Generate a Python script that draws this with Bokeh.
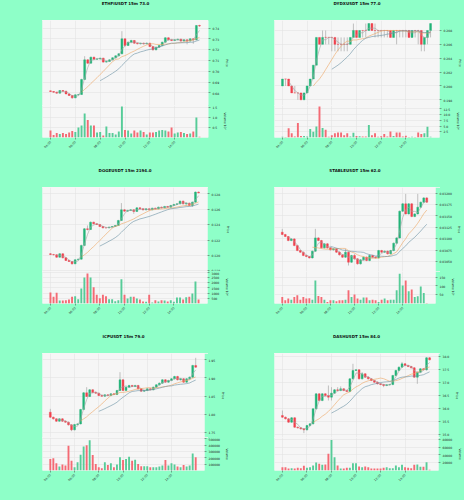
import math
import pandas as pd
from bokeh.plotting import figure
from bokeh.layouts import column, row
from bokeh.models import Range1d, FixedTicker, PrintfTickFormatter, Label
from bokeh.embed import file_html
from bokeh.resources import INLINE

# ---------------- data ----------------
TIME_TICKS = [0, 8, 16, 24, 32, 40]
TIME_LABELS = ["04:00", "06:00", "08:00", "10:00", "12:00", "14:00"]
MA_WINDOWS = [3, 11, 17]

ETHFI_title = "ETHFIUSDT 15m 73.0"
ETHFI_open0 = 0.6818
ETHFI_close = [0.6812, 0.6806, 0.6797, 0.6821, 0.6815, 0.6790, 0.6775, 0.6753, 0.6781, 0.6784, 0.6924, 0.7106, 0.7075, 0.7131, 0.7112, 0.7115, 0.7122, 0.7085, 0.7091, 0.7106, 0.7125, 0.7143, 0.7162, 0.7301, 0.7239, 0.7270, 0.7286, 0.7261, 0.7255, 0.7261, 0.7255, 0.7261, 0.7230, 0.7199, 0.7224, 0.7239, 0.7270, 0.7311, 0.7292, 0.7286, 0.7292, 0.7298, 0.7280, 0.7292, 0.7280, 0.7301, 0.7292, 0.7425, 0.7420]
ETHFI_high = [0.6822, 0.6816, 0.6810, 0.6826, 0.6825, 0.6818, 0.6794, 0.6778, 0.6785, 0.6790, 0.6930, 0.7140, 0.7112, 0.7136, 0.7135, 0.7120, 0.7126, 0.7125, 0.7096, 0.7110, 0.7130, 0.7148, 0.7168, 0.7372, 0.7305, 0.7275, 0.7292, 0.7290, 0.7266, 0.7265, 0.7266, 0.7266, 0.7265, 0.7234, 0.7228, 0.7244, 0.7275, 0.7316, 0.7315, 0.7297, 0.7297, 0.7303, 0.7302, 0.7296, 0.7296, 0.7306, 0.7306, 0.7430, 0.7432]
ETHFI_low = [0.6808, 0.6800, 0.6792, 0.6794, 0.6810, 0.6786, 0.6770, 0.6745, 0.6750, 0.6776, 0.6780, 0.6920, 0.7068, 0.7070, 0.7105, 0.7108, 0.7110, 0.7080, 0.7080, 0.7088, 0.7102, 0.7120, 0.7140, 0.7158, 0.7230, 0.7235, 0.7265, 0.7255, 0.7250, 0.7250, 0.7248, 0.7250, 0.7225, 0.7192, 0.7195, 0.7220, 0.7235, 0.7265, 0.7286, 0.7280, 0.7282, 0.7288, 0.7274, 0.7276, 0.7250, 0.7275, 0.7255, 0.7288, 0.7412]
ETHFI_volume = [3.5e6, 1.2e6, 2.2e6, 1.8e6, 2.2e6, 1.8e6, 2.5e6, 3.2e6, 2.8e6, 5.0e6, 6.0e6, 12.0e6, 8.7e6, 6.0e6, 6.0e6, 2.5e6, 2.8e6, 1.0e6, 5.5e6, 2.2e6, 2.2e6, 1.5e6, 3.0e6, 15.5e6, 3.8e6, 3.5e6, 2.0e6, 3.5e6, 2.5e6, 3.5e6, 2.8e6, 1.5e6, 2.5e6, 2.5e6, 2.8e6, 3.5e6, 3.8e6, 3.5e6, 3.0e6, 5.0e6, 2.0e6, 2.5e6, 2.8e6, 2.2e6, 1.8e6, 2.0e6, 3.0e6, 10.0e6, 0.4e6]
ETHFI_price_ticks = [0.68, 0.69, 0.70, 0.71, 0.72, 0.73, 0.74]
ETHFI_vol_ticks = [0.5, 1.0, 1.5]

DYDX_title = "DYDXUSDT 15m 77.0"
DYDX_open0 = 0.200
DYDX_close = [0.201, 0.201, 0.200, 0.199, 0.199, 0.199, 0.198, 0.199, 0.200, 0.201, 0.203, 0.207, 0.206, 0.207, 0.207, 0.207, 0.207, 0.206, 0.206, 0.206, 0.206, 0.206, 0.207, 0.208, 0.207, 0.208, 0.208, 0.208, 0.209, 0.208, 0.208, 0.208, 0.208, 0.208, 0.208, 0.207, 0.208, 0.208, 0.208, 0.208, 0.208, 0.207, 0.208, 0.208, 0.208, 0.206, 0.207, 0.208, 0.209]
DYDX_high = [0.201, 0.201, 0.201, 0.200, 0.200, 0.199, 0.199, 0.199, 0.200, 0.201, 0.203, 0.207, 0.207, 0.208, 0.208, 0.207, 0.207, 0.207, 0.207, 0.207, 0.207, 0.207, 0.207, 0.209, 0.208, 0.208, 0.208, 0.209, 0.209, 0.209, 0.209, 0.208, 0.208, 0.208, 0.208, 0.208, 0.208, 0.208, 0.208, 0.208, 0.208, 0.208, 0.208, 0.208, 0.208, 0.208, 0.207, 0.208, 0.209]
DYDX_low = [0.200, 0.200, 0.200, 0.199, 0.199, 0.198, 0.198, 0.198, 0.199, 0.200, 0.201, 0.203, 0.206, 0.206, 0.206, 0.206, 0.205, 0.205, 0.205, 0.205, 0.205, 0.205, 0.206, 0.207, 0.207, 0.207, 0.207, 0.207, 0.208, 0.208, 0.207, 0.207, 0.207, 0.207, 0.207, 0.207, 0.207, 0.206, 0.207, 0.207, 0.207, 0.207, 0.207, 0.207, 0.206, 0.205, 0.205, 0.206, 0.207]
DYDX_volume = [3000, 2000, 40000, 19000, 4000, 63000, 7000, 6000, 4000, 37000, 25000, 48000, 135000, 41000, 34000, 3000, 10000, 19000, 22000, 22000, 10000, 19000, 4000, 21000, 7000, 5000, 4000, 4000, 54000, 10000, 19000, 3000, 5000, 15000, 4000, 26000, 6000, 22000, 22000, 4000, 8000, 2000, 3000, 2000, 22000, 15000, 18000, 47000, 3000]
DYDX_price_ticks = [0.198, 0.200, 0.202, 0.204, 0.206, 0.208]
DYDX_vol_ticks = [2.5, 5.0, 7.5, 10.0, 12.5]

DOGE_title = "DOGEUSDT 15m 2194.0"
DOGE_open0 = 0.12022
DOGE_close = [0.12013, 0.12009, 0.11978, 0.12022, 0.11970, 0.11935, 0.11922, 0.11892, 0.11944, 0.11952, 0.12130, 0.12346, 0.12337, 0.12432, 0.12411, 0.12402, 0.12376, 0.12359, 0.12359, 0.12368, 0.12376, 0.12389, 0.12454, 0.12592, 0.12575, 0.12584, 0.12592, 0.12571, 0.12618, 0.12605, 0.12592, 0.12605, 0.12592, 0.12614, 0.12605, 0.12627, 0.12618, 0.12636, 0.12627, 0.12649, 0.12662, 0.12670, 0.12705, 0.12670, 0.12679, 0.12649, 0.12692, 0.12822, 0.12813]
DOGE_high = [0.12030, 0.12020, 0.12015, 0.12030, 0.12028, 0.11976, 0.11942, 0.11928, 0.11950, 0.11960, 0.12140, 0.12355, 0.12390, 0.12440, 0.12438, 0.12418, 0.12408, 0.12382, 0.12366, 0.12375, 0.12383, 0.12396, 0.12462, 0.12680, 0.12600, 0.12592, 0.12600, 0.12598, 0.12625, 0.12625, 0.12612, 0.12612, 0.12612, 0.12620, 0.12620, 0.12634, 0.12634, 0.12643, 0.12643, 0.12656, 0.12670, 0.12678, 0.12712, 0.12712, 0.12686, 0.12686, 0.12700, 0.12830, 0.12830]
DOGE_low = [0.12005, 0.12000, 0.11970, 0.11972, 0.11962, 0.11928, 0.11915, 0.11880, 0.11886, 0.11938, 0.11946, 0.12124, 0.12325, 0.12330, 0.12404, 0.12395, 0.12369, 0.12352, 0.12352, 0.12352, 0.12362, 0.12370, 0.12383, 0.12448, 0.12568, 0.12568, 0.12578, 0.12540, 0.12565, 0.12598, 0.12585, 0.12586, 0.12585, 0.12586, 0.12598, 0.12598, 0.12611, 0.12611, 0.12620, 0.12620, 0.12642, 0.12655, 0.12663, 0.12663, 0.12640, 0.12642, 0.12630, 0.12686, 0.12806]
DOGE_volume = [10560000, 6400000, 10240000, 2880000, 2880000, 3200000, 3840000, 6400000, 7040000, 4160000, 14400000, 24960000, 28800000, 24960000, 15680000, 8320000, 5120000, 8320000, 7040000, 4160000, 4160000, 2240000, 3200000, 23360000, 8320000, 4800000, 6400000, 6400000, 4800000, 3840000, 1920000, 1600000, 8320000, 960000, 3200000, 1920000, 3200000, 2880000, 1920000, 3200000, 1600000, 5760000, 5760000, 3840000, 6080000, 6400000, 9600000, 21120000, 3840000]
DOGE_price_ticks = [0.118, 0.120, 0.122, 0.124, 0.126, 0.128]
DOGE_vol_ticks = [500, 1000, 1500, 2000, 2500, 3000]

STABLE_title = "STABLEUSDT 15m 62.0"
STABLE_open0 = 0.031144
STABLE_close = [0.031093, 0.031049, 0.030961, 0.030997, 0.030851, 0.030741, 0.030705, 0.030632, 0.030610, 0.030580, 0.030727, 0.031019, 0.030961, 0.030800, 0.030888, 0.030800, 0.030756, 0.030778, 0.030705, 0.030646, 0.030595, 0.030705, 0.030485, 0.030632, 0.030559, 0.030449, 0.030537, 0.030595, 0.030522, 0.030632, 0.030595, 0.030580, 0.030741, 0.030705, 0.030727, 0.030668, 0.030741, 0.030902, 0.031019, 0.031605, 0.031766, 0.031546, 0.031766, 0.031488, 0.031546, 0.031693, 0.031802, 0.031897, 0.031802]
STABLE_high = [0.031217, 0.031108, 0.031060, 0.031012, 0.031010, 0.030866, 0.030756, 0.030720, 0.030646, 0.030624, 0.030741, 0.031217, 0.031034, 0.030975, 0.030902, 0.030902, 0.030815, 0.030793, 0.030793, 0.030720, 0.030661, 0.030778, 0.030720, 0.030646, 0.030661, 0.030573, 0.030551, 0.030610, 0.030610, 0.030661, 0.030646, 0.030610, 0.030756, 0.030756, 0.030741, 0.030741, 0.030756, 0.030917, 0.031034, 0.031619, 0.031780, 0.031985, 0.031780, 0.031780, 0.031561, 0.031985, 0.031817, 0.031912, 0.031912]
STABLE_low = [0.031080, 0.031035, 0.030946, 0.030946, 0.030836, 0.030727, 0.030690, 0.030617, 0.030595, 0.030566, 0.030566, 0.030712, 0.030946, 0.030785, 0.030785, 0.030785, 0.030741, 0.030741, 0.030690, 0.030632, 0.030580, 0.030580, 0.030412, 0.030470, 0.030544, 0.030434, 0.030434, 0.030522, 0.030507, 0.030507, 0.030580, 0.030566, 0.030566, 0.030690, 0.030690, 0.030654, 0.030654, 0.030727, 0.030888, 0.031005, 0.031590, 0.031532, 0.031532, 0.031473, 0.031473, 0.031532, 0.031678, 0.031788, 0.031788]
STABLE_volume = [3700000, 1900000, 2800000, 2200000, 3700000, 4700000, 2200000, 3700000, 2800000, 3000000, 2200000, 13100000, 4300000, 3700000, 2200000, 900000, 1900000, 1900000, 1300000, 1900000, 1900000, 2200000, 7500000, 3700000, 5100000, 2800000, 2200000, 3400000, 3400000, 1900000, 2200000, 1900000, 900000, 2200000, 2800000, 1900000, 2200000, 2200000, 7500000, 16900000, 10300000, 13100000, 6900000, 7900000, 3700000, 4100000, 9700000, 6000000, 300000]
STABLE_price_ticks = [0.03050, 0.03075, 0.03100, 0.03125, 0.03150, 0.03175, 0.03200]
STABLE_vol_ticks = [50, 100, 150]

ICP_title = "ICPUSDT 15m 79.0"
ICP_open0 = 1.8053
ICP_close = [1.7915, 1.7869, 1.7804, 1.7869, 1.7804, 1.7777, 1.7703, 1.7565, 1.7712, 1.7730, 1.8127, 1.8588, 1.8486, 1.8671, 1.8597, 1.8578, 1.8514, 1.8495, 1.8532, 1.8514, 1.8560, 1.8542, 1.8652, 1.8947, 1.8652, 1.8744, 1.8790, 1.8763, 1.8790, 1.8698, 1.8634, 1.8652, 1.8698, 1.8671, 1.8744, 1.8809, 1.8855, 1.8947, 1.8883, 1.8929, 1.8975, 1.9039, 1.8947, 1.8975, 1.8883, 1.8975, 1.9021, 1.9343, 1.9297]
ICP_high = [1.8145, 1.7930, 1.7885, 1.7885, 1.7885, 1.7820, 1.7795, 1.7720, 1.7730, 1.7750, 1.8145, 1.8610, 1.8744, 1.8690, 1.8690, 1.8615, 1.8595, 1.8530, 1.8550, 1.8550, 1.8578, 1.8578, 1.8670, 1.9159, 1.8965, 1.8762, 1.8810, 1.8810, 1.8810, 1.8810, 1.8715, 1.8670, 1.8715, 1.8715, 1.8762, 1.8828, 1.8875, 1.8965, 1.8965, 1.8948, 1.8995, 1.9058, 1.9058, 1.8995, 1.8995, 1.8995, 1.9040, 1.9362, 1.9555]
ICP_low = [1.7895, 1.7850, 1.7785, 1.7790, 1.7785, 1.7760, 1.7685, 1.7528, 1.7550, 1.7695, 1.7715, 1.8110, 1.8470, 1.8470, 1.8580, 1.8560, 1.8495, 1.8478, 1.8478, 1.8495, 1.8495, 1.8525, 1.8525, 1.8635, 1.8635, 1.8635, 1.8725, 1.8745, 1.8745, 1.8680, 1.8615, 1.8615, 1.8635, 1.8655, 1.8655, 1.8725, 1.8790, 1.8835, 1.8865, 1.8865, 1.8910, 1.8955, 1.8930, 1.8930, 1.8865, 1.8865, 1.8955, 1.9000, 1.9280]
ICP_volume = [181000, 192000, 114000, 62000, 93000, 78000, 389000, 155000, 52000, 130000, 249000, 378000, 399000, 477000, 244000, 104000, 52000, 36000, 130000, 88000, 114000, 52000, 93000, 207000, 166000, 181000, 218000, 155000, 171000, 104000, 67000, 67000, 67000, 52000, 52000, 52000, 62000, 78000, 166000, 78000, 114000, 93000, 62000, 52000, 88000, 62000, 78000, 269000, 207000]
ICP_price_ticks = [1.75, 1.80, 1.85, 1.90, 1.95]
ICP_vol_ticks = [100000, 200000, 300000, 400000, 500000]

DASH_title = "DASHUSDT 15m 84.0"
DASH_open0 = 35.731
DASH_close = [35.667, 35.603, 35.474, 35.641, 35.282, 35.256, 35.218, 35.179, 35.346, 35.410, 35.987, 36.564, 36.308, 36.564, 36.500, 36.436, 36.590, 36.718, 36.692, 36.756, 36.692, 36.654, 37.141, 37.462, 37.487, 37.141, 37.333, 37.205, 37.141, 37.077, 37.013, 36.949, 36.923, 36.885, 36.910, 36.923, 37.269, 37.462, 37.590, 37.718, 37.654, 37.615, 37.564, 37.205, 37.397, 37.526, 37.487, 37.949, 37.872]
DASH_high = [35.923, 35.690, 35.630, 35.670, 35.665, 35.305, 35.280, 35.240, 35.370, 35.435, 36.010, 36.590, 36.590, 36.590, 36.590, 36.885, 36.820, 36.745, 36.820, 36.850, 36.780, 36.720, 37.165, 37.718, 37.510, 37.510, 37.400, 37.360, 37.230, 37.165, 37.100, 37.040, 36.975, 36.950, 36.935, 36.950, 37.295, 37.490, 37.615, 37.790, 37.745, 37.680, 37.640, 37.590, 37.420, 37.550, 37.550, 37.975, 37.975]
DASH_low = [35.640, 35.580, 35.450, 35.450, 35.260, 35.230, 35.190, 35.051, 35.155, 35.320, 35.390, 35.960, 36.280, 36.280, 36.475, 36.308, 36.308, 36.565, 36.665, 36.665, 36.665, 36.630, 36.630, 37.115, 37.440, 37.115, 37.115, 37.180, 37.115, 37.050, 36.985, 36.925, 36.895, 36.820, 36.860, 36.885, 36.895, 37.240, 37.435, 37.565, 37.630, 37.590, 37.540, 37.180, 36.949, 37.370, 37.460, 37.460, 37.850]
DASH_volume = [8600, 8600, 5100, 6000, 5100, 6900, 6000, 12000, 6900, 8600, 12900, 20600, 17200, 14600, 15400, 43000, 79000, 34000, 12900, 5100, 5100, 6900, 6900, 19000, 19000, 10300, 8600, 10300, 8600, 5100, 5100, 5100, 5100, 6900, 8600, 6000, 6000, 12900, 8600, 14600, 8600, 6900, 6000, 14600, 15400, 9400, 9400, 21500, 1700]
DASH_price_ticks = [35.0, 35.5, 36.0, 36.5, 37.0, 37.5, 38.0]
DASH_vol_ticks = [20000, 40000, 60000, 80000]

# ---------------- style ----------------
PAGE_BG = "#8effc8"
PLOT_BG = "#f6f6f6"
GRID = "#e0e0e0"
UP = "#22b478"
DOWN = "#f2404c"
VUP = "#56cc98"
VDOWN = "#f46a74"
WICK = "#9a9a9a"
MA_COLORS = ["#a3a3a3", "#eda562", "#6a90a3"]
FONT = "DejaVu Sans"
X_RANGE = (-2.58, 50.9)
FIG_CSS = {"background": "linear-gradient(to right, %s 42px, %s 42px, %s 208px, %s 208px)"
           % (PAGE_BG, PLOT_BG, PLOT_BG, PAGE_BG)}


def style_axis(ax):
    ax.major_label_text_font_size = "3px"
    ax.major_label_text_font = FONT
    ax.major_label_text_color = "#222222"
    ax.axis_line_color = None
    ax.major_tick_line_color = "#444444"
    ax.major_tick_line_width = 0.5
    ax.major_tick_out = 2
    ax.major_tick_in = 0
    ax.minor_tick_line_color = None
    ax.major_label_standoff = 2
    ax.axis_label_text_font_size = "3px"
    ax.axis_label_text_font = FONT
    ax.axis_label_text_font_style = "normal"
    ax.axis_label_text_color = "#222222"
    ax.axis_label_standoff = 3


def title_fig(title):
    t = figure(width=232, height=20, x_range=Range1d(0, 232), y_range=Range1d(0, 20),
               output_backend="svg", toolbar_location=None, x_axis_location=None,
               y_axis_location=None, min_border=0, background_fill_color=PAGE_BG,
               border_fill_color=PAGE_BG, outline_line_color=None,
               styles={"background-color": PAGE_BG})
    t.xgrid.visible = False
    t.ygrid.visible = False
    t.add_layout(Label(x=116, y=17, text=title, text_font=FONT, text_font_size="4px",
                       text_font_style="bold", text_color="#111111",
                       text_align="center", text_baseline="middle"))
    return t


def panel(title, open0, close, high, low, volume, vol_div, pticks, pfmt,
          vticks, vfmt, vlabel, prange, vrange, hp, hv, vframe):
    n = len(close)
    idx = list(range(n))
    opens = [open0] + close[:-1]
    up = [c > o for o, c in zip(opens, close)]
    col = [UP if u else DOWN for u in up]
    vcol = [VUP if u else VDOWN for u in up]
    top = [max(o, c) for o, c in zip(opens, close)]
    bot = [min(o, c) for o, c in zip(opens, close)]

    xr = Range1d(*X_RANGE)
    p = figure(width=232, height=hp, x_range=xr, y_range=Range1d(*prange),
               output_backend="svg", toolbar_location=None, y_axis_location="right",
               min_border_left=42, min_border_right=24, min_border_top=0,
               min_border_bottom=0, background_fill_color=PLOT_BG,
               border_fill_color=PAGE_BG, outline_line_color=None, styles=FIG_CSS)
    p.xaxis.visible = False
    p.xgrid.ticker = FixedTicker(ticks=TIME_TICKS)
    p.yaxis.ticker = FixedTicker(ticks=pticks)
    p.ygrid.ticker = FixedTicker(ticks=pticks)
    p.yaxis.formatter = PrintfTickFormatter(format=pfmt)
    p.yaxis.axis_label = "Price"
    style_axis(p.yaxis[0])
    for g in (p.xgrid[0], p.ygrid[0]):
        g.grid_line_color = GRID
        g.grid_line_width = 0.5

    p.segment(x0=idx, y0=low, x1=idx, y1=high, line_color=WICK, line_width=0.6)
    p.vbar(x=idx, width=0.62, top=top, bottom=bot, fill_color=col,
           line_color=col, line_width=0.4)
    closes = pd.Series(close)
    for w, c in zip(MA_WINDOWS, MA_COLORS):
        ma = closes.rolling(w).mean().tolist()
        p.line(idx, ma, line_color=c, line_width=0.6)

    v = figure(width=232, height=hv, x_range=xr, y_range=Range1d(*vrange),
               output_backend="svg", toolbar_location=None, y_axis_location="right",
               min_border_left=42, min_border_right=24, min_border_top=0,
               min_border_bottom=hv - vframe, background_fill_color=PLOT_BG,
               border_fill_color=PAGE_BG, outline_line_color=None, styles=FIG_CSS)
    v.xaxis.ticker = FixedTicker(ticks=TIME_TICKS)
    v.xgrid.ticker = FixedTicker(ticks=TIME_TICKS)
    v.xaxis.major_label_overrides = {t: l for t, l in zip(TIME_TICKS, TIME_LABELS)}
    v.xaxis.major_label_orientation = math.pi / 4
    v.yaxis.ticker = FixedTicker(ticks=vticks)
    v.ygrid.ticker = FixedTicker(ticks=vticks)
    v.yaxis.formatter = PrintfTickFormatter(format=vfmt)
    v.yaxis.axis_label = vlabel
    style_axis(v.yaxis[0])
    style_axis(v.xaxis[0])
    for g in (v.xgrid[0], v.ygrid[0]):
        g.grid_line_color = GRID
        g.grid_line_width = 0.5
    vv = [x / vol_div for x in volume]
    v.vbar(x=idx, width=0.62, top=vv, bottom=0, fill_color=vcol, line_color=None)
    return column(title_fig(title), p, v, spacing=0)


p1 = panel(ETHFI_title, ETHFI_open0, ETHFI_close, ETHFI_high, ETHFI_low, ETHFI_volume, 1e7,
           ETHFI_price_ticks, "%.2f", ETHFI_vol_ticks, "%.1f", "Volume  10\u2077",
           (0.66821, 0.74715), (0, 1.6), 85, 62, 32)
p2 = panel(DYDX_title, DYDX_open0, DYDX_close, DYDX_high, DYDX_low, DYDX_volume, 1e4,
           DYDX_price_ticks, "%.3f", DYDX_vol_ticks, "%.1f", "Volume  10\u2074",
           (0.19718, 0.20944), (0, 13.96), 85, 62, 32)
p3 = panel(DOGE_title, DOGE_open0, DOGE_close, DOGE_high, DOGE_low, DOGE_volume, 1e4,
           DOGE_price_ticks, "%.3f", DOGE_vol_ticks, "%d", "Volume  10\u2074",
           (0.11792, 0.12882), (0, 3070), 84, 62, 32)
p4 = panel(STABLE_title, STABLE_open0, STABLE_close, STABLE_high, STABLE_low, STABLE_volume, 1e5,
           STABLE_price_ticks, "%.5f", STABLE_vol_ticks, "%d", "Volume  10\u2075",
           (0.030281, 0.032125), (0, 182), 84, 62, 32)
p5 = panel(ICP_title, ICP_open0, ICP_close, ICP_high, ICP_low, ICP_volume, 1,
           ICP_price_ticks, "%.2f", ICP_vol_ticks, "%d", "Volume",
           (1.7354, 1.9674), (0, 520000), 84, 63, 33)
p6 = panel(DASH_title, DASH_open0, DASH_close, DASH_high, DASH_low, DASH_volume, 1,
           DASH_price_ticks, "%.1f", DASH_vol_ticks, "%d", "Volume",
           (34.885, 38.115), (0, 85150), 84, 63, 33)

layout = column(row(p1, p2, spacing=0), row(p3, p4, spacing=0), row(p5, p6, spacing=0),
                spacing=0, styles={"background-color": PAGE_BG})

open("out.html", "w").write(file_html(layout, INLINE))
